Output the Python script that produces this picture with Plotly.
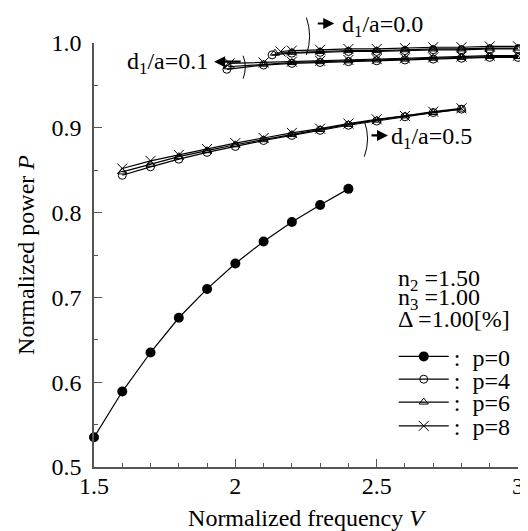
import plotly.graph_objects as go

# ---- data ----
V_p0 = [1.5, 1.6, 1.7, 1.8, 1.9, 2.0, 2.1, 2.2, 2.3, 2.4]
P_p0 = [0.535, 0.589, 0.635, 0.676, 0.710, 0.740, 0.766, 0.789, 0.809, 0.828]

V_d05 = [1.6, 1.7, 1.8, 1.9, 2.0, 2.1, 2.2, 2.3, 2.4, 2.5, 2.6, 2.7, 2.8]
P_d05_p4 = [0.844, 0.854, 0.863, 0.871, 0.878, 0.885, 0.891, 0.897, 0.903, 0.908, 0.913, 0.918, 0.922]
P_d05_p6 = [0.848, 0.857, 0.866, 0.873, 0.880, 0.886, 0.892, 0.898, 0.904, 0.909, 0.914, 0.918, 0.922]
P_d05_p8 = [0.852, 0.861, 0.868, 0.875, 0.882, 0.888, 0.894, 0.899, 0.905, 0.910, 0.914, 0.919, 0.923]

V_d01_p4 = [1.97, 2.1, 2.2, 2.3, 2.4, 2.5, 2.6, 2.7, 2.8, 2.9, 3.0]
V_d01_p6 = [1.975, 2.1, 2.2, 2.3, 2.4, 2.5, 2.6, 2.7, 2.8, 2.9, 3.0]
V_d01_p8 = [1.98, 2.1, 2.2, 2.3, 2.4, 2.5, 2.6, 2.7, 2.8, 2.9, 3.0]
P_d01_p4 = [0.969, 0.974, 0.976, 0.977, 0.978, 0.979, 0.980, 0.981, 0.982, 0.983, 0.983]
P_d01_p6 = [0.972, 0.975, 0.977, 0.978, 0.979, 0.980, 0.981, 0.982, 0.983, 0.984, 0.984]
P_d01_p8 = [0.976, 0.977, 0.978, 0.979, 0.980, 0.981, 0.982, 0.983, 0.984, 0.985, 0.985]

V_d00_p4 = [2.13, 2.2, 2.3, 2.4, 2.5, 2.6, 2.7, 2.8, 2.9, 3.0]
V_d00_p6 = [2.14, 2.2, 2.3, 2.4, 2.5, 2.6, 2.7, 2.8, 2.9, 3.0]
V_d00_p8 = [2.16, 2.2, 2.3, 2.4, 2.5, 2.6, 2.7, 2.8, 2.9, 3.0]
P_d00_p4 = [0.986, 0.988, 0.989, 0.990, 0.990, 0.991, 0.992, 0.992, 0.993, 0.993]
P_d00_p6 = [0.988, 0.989, 0.990, 0.991, 0.991, 0.992, 0.993, 0.993, 0.994, 0.994]
P_d00_p8 = [0.990, 0.991, 0.992, 0.993, 0.993, 0.994, 0.995, 0.995, 0.996, 0.996]

legend_labels = [":\u00a0\u00a0p=0", ":\u00a0\u00a0p=4", ":\u00a0\u00a0p=6", ":\u00a0\u00a0p=8"]

FONT = "Liberation Serif, Times New Roman, Times, serif"
FS = 24
fig = go.Figure()

line = dict(color="black", width=1.2)
mk_p4 = dict(symbol="circle-open", size=8, color="black", line=dict(width=1, color="black"))
mk_p6 = dict(symbol="triangle-up-open", size=8, color="black", line=dict(width=1, color="black"))
mk_p8 = dict(symbol="x-thin-open", size=10, color="black", line=dict(width=1, color="black"))
mk_p0 = dict(symbol="circle", size=10, color="black")

fig.add_trace(go.Scatter(x=V_p0, y=P_p0, mode="lines+markers", line=line, marker=mk_p0,
                         name=legend_labels[0], legend="legend", cliponaxis=False))

groups = [
    (V_d05, V_d05, V_d05, P_d05_p4, P_d05_p6, P_d05_p8),
    (V_d01_p4, V_d01_p6, V_d01_p8, P_d01_p4, P_d01_p6, P_d01_p8),
    (V_d00_p4, V_d00_p6, V_d00_p8, P_d00_p4, P_d00_p6, P_d00_p8),
]
for gi, (v4, v6, v8, p4, p6, p8) in enumerate(groups):
    show = gi == 0
    fig.add_trace(go.Scatter(x=v4, y=p4, mode="lines+markers", line=line, marker=mk_p4,
                             name=legend_labels[1], legend="legend2", showlegend=show, cliponaxis=False))
    fig.add_trace(go.Scatter(x=v6, y=p6, mode="lines+markers", line=line, marker=mk_p6,
                             name=legend_labels[2], legend="legend3", showlegend=show, cliponaxis=False))
    fig.add_trace(go.Scatter(x=v8, y=p8, mode="lines+markers", line=line, marker=mk_p8,
                             name=legend_labels[3], legend="legend4", showlegend=show, cliponaxis=False))

ann = []
tf = dict(family=FONT, size=FS, color="black")


def px(v):
    return (v - 1.5) / 1.5


def py(p):
    return (p - 0.5) / 0.5


def label(v, p, text, xanchor="left"):
    return dict(x=px(v), y=py(p), xref="paper", yref="paper", text=text, showarrow=False,
                xanchor=xanchor, yanchor="middle", font=tf)


# parameter texts
ann.append(label(2.57, 0.720, "n<sub>2</sub> =1.50"))
ann.append(label(2.57, 0.698, "n<sub>3</sub> =1.00"))
ann.append(label(2.57, 0.675, "Δ =1.00[%]"))
# d1/a labels
ann.append(label(2.37, 1.020, "d<sub>1</sub>/a=0.0"))
ann.append(label(2.545, 0.888, "d<sub>1</sub>/a=0.5"))
ann.append(label(1.91, 0.976, "d<sub>1</sub>/a=0.1", xanchor="right"))
# arrows
for (hx, hy, dx) in [(2.35, 1.023, -18), (2.54, 0.891, -18), (1.925, 0.978, 28)]:
    ann.append(dict(x=px(hx), y=py(hy), xref="paper", yref="paper", ax=dx, ay=0,
                    text="", showarrow=True, arrowhead=2, arrowsize=1, arrowwidth=2.2, arrowcolor="black"))

shapes = []


def bracket(x, y0, y1, bulge):
    ym = (y0 + y1) / 2
    return dict(type="path", xref="paper", yref="paper",
                path=f"M {px(x - bulge*0.3)},{py(y1)} Q {px(x + bulge*1.6)},{py(ym)} {px(x - bulge*0.3)},{py(y0)}",
                line=dict(color="black", width=1))


shapes.append(bracket(2.255, 0.986, 1.030, 0.012))
shapes.append(bracket(2.46, 0.866, 0.908, 0.012))
shapes.append(bracket(2.03, 0.958, 0.985, 0.008))


def leg(ypix):
    return dict(x=0.707, y=(462 - ypix) / 427, xanchor="left", yanchor="middle",
                bgcolor="rgba(0,0,0,0)", font=dict(family=FONT, size=FS, color="black"),
                itemwidth=50, borderwidth=0)


fig.update_layout(
    width=528, height=531,
    margin=dict(l=86, r=12, t=35, b=69),
    paper_bgcolor="white", plot_bgcolor="white",
    font=dict(family=FONT, size=FS, color="black"),
    annotations=ann, shapes=shapes,
    showlegend=True,
    legend=leg(351), legend2=leg(374), legend3=leg(397), legend4=leg(421),
    xaxis=dict(range=[1.5, 3.0], tickvals=[1.5, 2, 2.5, 3], ticktext=["1.5", "2", "2.5", "3"],
               ticks="inside", ticklen=8, tickcolor="#555", showline=True, linecolor="#555", linewidth=1.5,
               showgrid=False, zeroline=False,
               minor=dict(dtick=0.1, ticks="inside", ticklen=4, tickcolor="#555"),
               tickfont=dict(family=FONT, size=FS), ticklabelstandoff=-4,
               title=dict(text="Normalized frequency <i>V</i>", font=dict(family=FONT, size=FS), standoff=12)),
    yaxis=dict(range=[0.5, 1.0], dtick=0.1, tickformat=".1f",
               ticks="inside", ticklen=8, tickcolor="#555", showline=True, linecolor="#555", linewidth=1.5,
               showgrid=False, zeroline=False,
               minor=dict(dtick=0.05, ticks="inside", ticklen=4, tickcolor="#555"),
               tickfont=dict(family=FONT, size=FS), ticklabelstandoff=6,
               title=dict(text="Normalized power <i>P</i>", font=dict(family=FONT, size=FS), standoff=10)),
)

fig.write_html("out.html")
